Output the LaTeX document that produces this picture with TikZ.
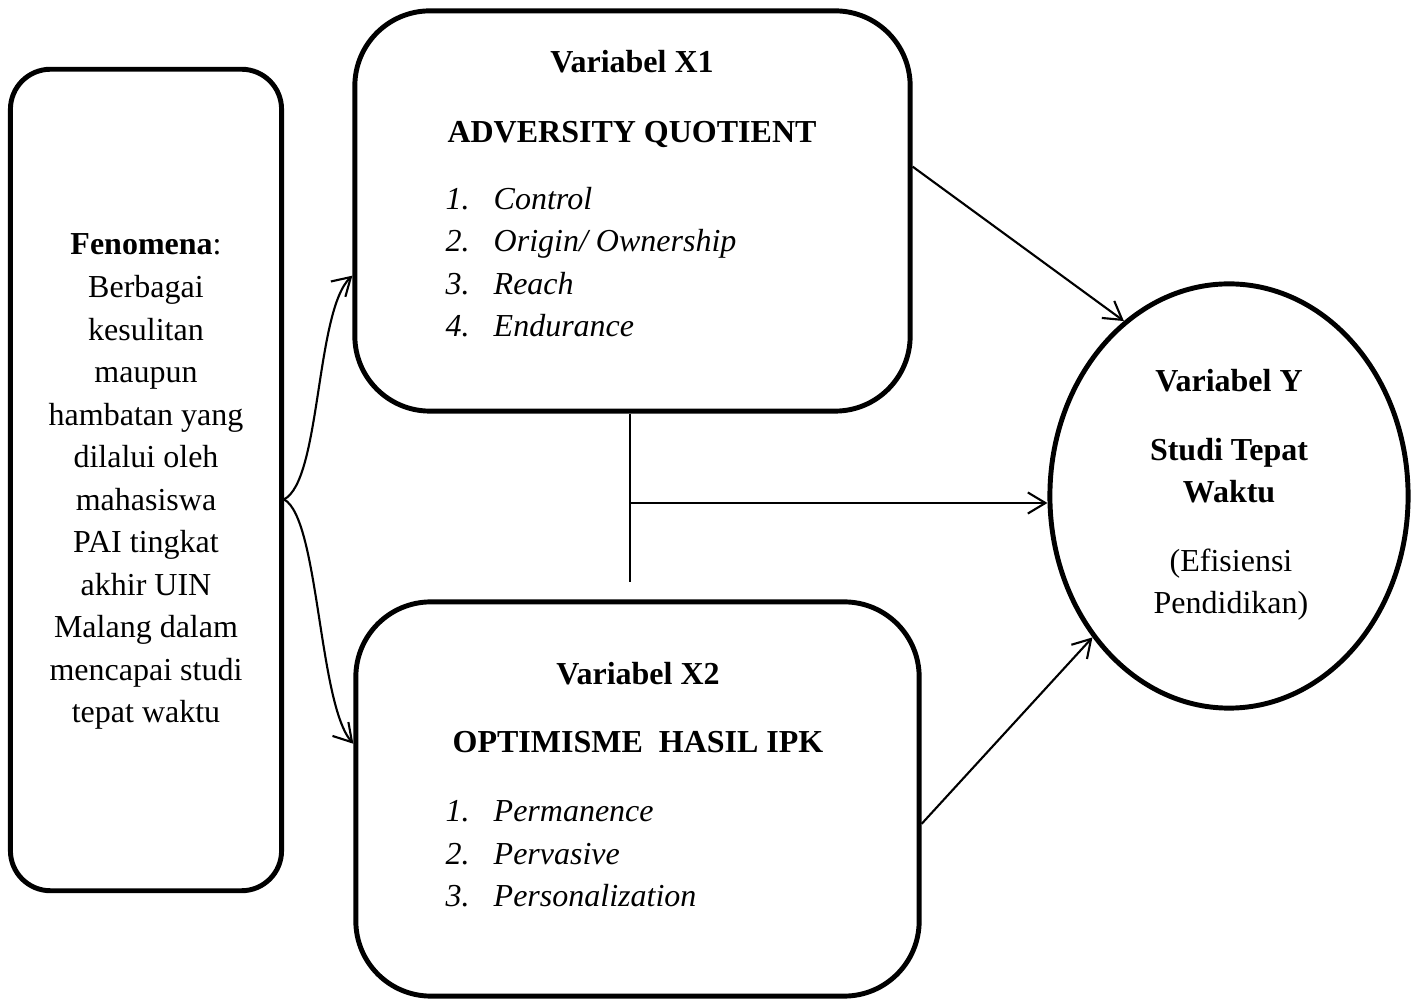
\documentclass[tikz,border=0pt]{standalone}
\usepackage{fontspec}
\setmainfont{Liberation Serif}
\usetikzlibrary{arrows.meta,shapes.geometric}

\tikzset{
  box/.style={draw, line width=1.4pt, rounded corners=0.75cm, inner sep=0pt},
  txt/.style={inner sep=0pt, font=\fontsize{9.1}{12.1}\selectfont},
  conn/.style={line width=0.6pt},
}

\begin{document}
\begin{tikzpicture}[x=0.01cm, y=-0.01cm, >={Straight Barb[length=5pt,width=6pt]}]
  \useasboundingbox (0,0) rectangle (1418,1001);

  % Boxes
  \node[box, rounded corners=0.4cm, minimum width=2.71cm, minimum height=8.21cm] at (146,480) (fen) {};
  \node[box, minimum width=5.55cm, minimum height=4.0cm] at (632.5,211) (x1) {};
  \node[box, minimum width=5.63cm, minimum height=3.94cm] at (637.5,799) (x2) {};
  \node[draw, ellipse, line width=1.4pt, inner sep=0pt, minimum width=3.58cm, minimum height=4.24cm] at (1229,496) (y) {};

  % Texts (base = last line)
  \node[txt, align=center, anchor=base] at (146,723) (fentxt) {\textbf{Fenomena}:\\ Berbagai\\ kesulitan\\ maupun\\ hambatan yang\\ dilalui oleh\\ mahasiswa\\ PAI tingkat\\ akhir UIN\\ Malang dalam\\ mencapai studi\\ tepat waktu};

  \node[txt, anchor=base] at (632,73) (x1head) {\textbf{Variabel X1}};
  \node[txt, anchor=base] at (632,143) (x1name) {\textbf{ADVERSITY QUOTIENT}};
  \node[txt, align=left, anchor=base west] at (445,337) (x1list) {\makebox[0.48cm][l]{\textit{1.}}\textit{Control}\\ \makebox[0.48cm][l]{\textit{2.}}\textit{Origin/ Ownership}\\ \makebox[0.48cm][l]{\textit{3.}}\textit{Reach}\\ \makebox[0.48cm][l]{\textit{4.}}\textit{Endurance}};

  \node[txt, anchor=base] at (638,685) (x2head) {\textbf{Variabel X2}};
  \node[txt, anchor=base] at (638,753) (x2name) {\textbf{OPTIMISME\ \ HASIL IPK}};
  \node[txt, align=left, anchor=base west] at (445,907) (x2list) {\makebox[0.48cm][l]{\textit{1.}}\textit{Permanence}\\ \makebox[0.48cm][l]{\textit{2.}}\textit{Pervasive}\\ \makebox[0.48cm][l]{\textit{3.}}\textit{Personalization}};

  \node[txt, anchor=base] at (1229,392) (yhead) {\textbf{Variabel Y}};
  \node[txt, align=center, anchor=base] at (1229,503) (yname) {\textbf{Studi Tepat}\\ \textbf{Waktu}};
  \node[txt, align=center, anchor=base] at (1231,614) (ynote) {(Efisiensi\\ Pendidikan)};

  % Connectors
  \draw[conn, ->] (fen.-8) .. controls +(37,-19) and +(-37,35) .. (x1.193);
  \draw[conn, ->] (fen.-8) .. controls +(35,19) and +(-35,-40) .. (x2.169);
  \draw[conn, ->] (x1.9) -- (y.121);
  \coordinate (jn) at (630,503);
  \coordinate (jb) at (630,582);
  \draw[conn] (x1.south -| jn) -- (jb);
  \draw[conn, ->] (jn) -- (jn -| y.west);
  \draw[conn, ->] (x2.-5) -- (y.226);
\end{tikzpicture}
\end{document}
